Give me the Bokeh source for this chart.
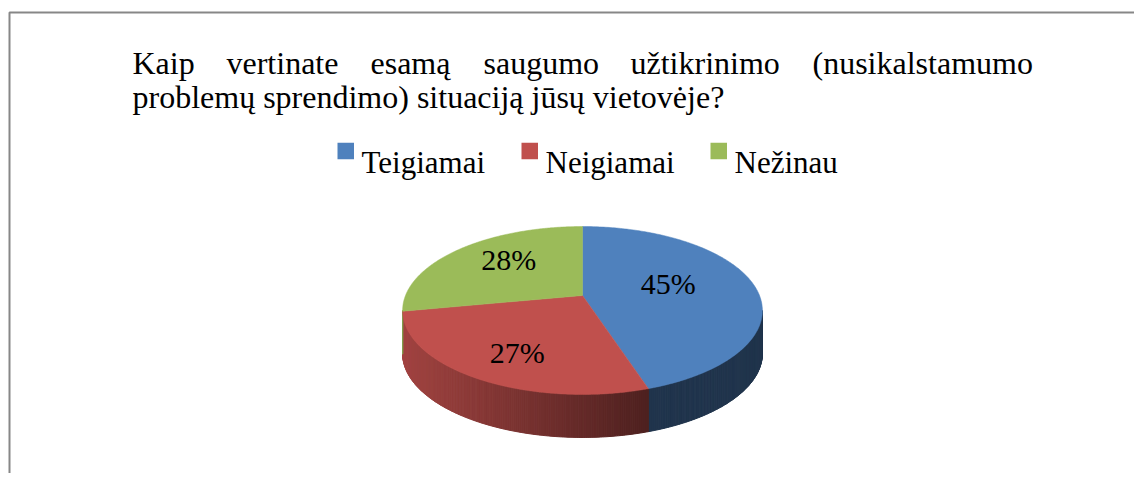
import numpy as np
from bokeh.plotting import figure
from bokeh.models import Range1d
from bokeh.embed import file_html
from bokeh.resources import INLINE
from bokeh.core.properties import value

# ---------------- data ----------------
categories = ["Teigiamai", "Neigiamai", "Nežinau"]
shares = [45, 27, 28]
pct_labels = ["45%", "27%", "28%"]
top_colors = ["#4f81bd", "#c0504d", "#9bbb59"]

title_line1 = ["Kaip", "vertinate", "esamą", "saugumo", "užtikrinimo", "(nusikalstamumo"]
title_line2 = "problemų sprendimo) situaciją jūsų vietovėje?"

# ---------------- layout ----------------
W, H = 1134, 473
FONT = "Liberation Serif"
p = figure(width=W, height=H, x_range=Range1d(0, W), y_range=Range1d(H, 0),
           output_backend="svg", toolbar_location=None, min_border=0,
           x_axis_location=None, y_axis_location=None)
p.grid.visible = False
p.outline_line_color = None
p.background_fill_color = "white"
p.border_fill_color = "white"

# chart frame (left and top edges visible, rest outside the window)
p.line(x=[9, 9, 1200], y=[600, 12, 12], line_color="#878787", line_width=2)

# title (justified first line: word starts)
word_x = [132, 226, 370, 483, 630, 812]
p.text(x=word_x, y=[62] * len(title_line1), text=title_line1,
       text_font=value(FONT), text_font_size="32px", text_color="black",
       text_baseline="alphabetic", text_align="left")
p.text(x=[132], y=[96], text=[title_line2],
       text_font=value(FONT), text_font_size="32px", text_color="black",
       text_baseline="alphabetic", text_align="left")

# legend
leg_x = [337, 521, 710]
SQ = 16.5
p.rect(x=[lx + SQ / 2 for lx in leg_x], y=[150.5] * 3, width=SQ, height=SQ,
       fill_color=top_colors, line_color=None)
p.text(x=[lx + 24 for lx in leg_x], y=[162] * 3, text=categories,
       text_font=value(FONT), text_font_size="31px", text_color="black",
       text_baseline="alphabetic", text_align="left")

# ---------------- 3D pie ----------------
CX, CY, RX, A, K, DEPTH = 582.0, 295.0, 177.0, 81.3, -0.1786, 43.0


def proj(t):
    u, v = np.cos(t), np.sin(t)
    d = 1 + K * v
    return CX + RX * u / d, CY + A * v / d


total = float(sum(shares))
starts, ends = [], []
acc = -np.pi / 2
for s in shares:
    starts.append(acc)
    acc += 2 * np.pi * s / total
    ends.append(acc)

t_sil1 = np.arcsin(-K)
t_sil2 = np.pi - t_sil1


def hex2rgb(h):
    h = h.lstrip("#")
    return [int(h[i:i + 2], 16) for i in (0, 2, 4)]


def shade(base, x):
    f = 0.84 - 0.43 * (x - 402.0) / 243.0
    f = max(0.40, min(0.86, f))
    r, g, b = [int(round(c * f)) for c in base]
    return "#%02x%02x%02x" % (r, g, b)


# sides
xs_s, ys_s, cs_s = [], [], []
for st, en, col in zip(starts, ends, top_colors):
    a0, a1 = max(st, t_sil1), min(en, t_sil2)
    if a1 <= a0:
        continue
    n = max(2, int((a1 - a0) / 0.01))
    ts = np.linspace(a0, a1, n + 1)
    base = hex2rgb(col)
    for i in range(n):
        x0, y0 = proj(ts[i])
        x1, y1 = proj(ts[i + 1])
        xs_s.append([x0, x1, x1, x0])
        ys_s.append([y0, y1, y1 + DEPTH, y0 + DEPTH])
        cs_s.append(shade(base, (x0 + x1) / 2))
p.patches(xs_s, ys_s, fill_color=cs_s, line_color=cs_s, line_width=1)

# top faces
xs_t, ys_t = [], []
for st, en in zip(starts, ends):
    ts = np.linspace(st, en, 200)
    x, y = proj(ts)
    xs_t.append([CX] + list(x))
    ys_t.append([CY] + list(y))
p.patches(xs_t, ys_t, fill_color=top_colors, line_color=top_colors, line_width=0.5)

# data labels (placed inside each slice along its mid-angle)
lx, ly = [], []
for st, en in zip(starts, ends):
    m = (st + en) / 2
    u, v = np.cos(m), np.sin(m)
    d = 1 + K * v
    lx.append(CX - 7 + RX * 0.546 * u / d)
    ly.append(CY - 3 + A * 0.72 * v / d)
p.text(x=lx, y=ly, text=pct_labels, text_font=value(FONT), text_font_size="30px",
       text_color="black", text_baseline="middle", text_align="center")

open("out.html", "w").write(file_html(p, INLINE))
